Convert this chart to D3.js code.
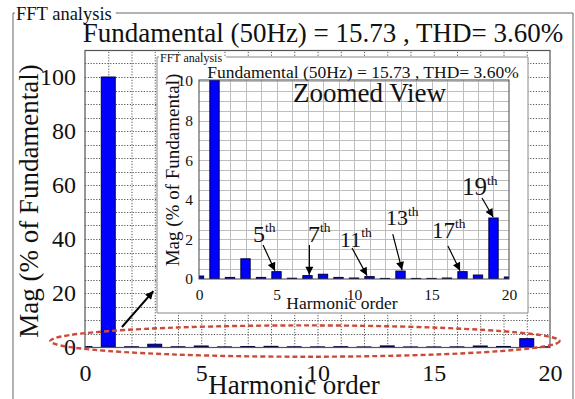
<!DOCTYPE html>
<html>
<head>
<meta charset="utf-8">
<script src="https://cdn.jsdelivr.net/npm/d3@7"></script>
<style>
  html, body { margin: 0; padding: 0; background: #fff; }
  svg { display: block; }
</style>
</head>
<body>
<svg id="chart" width="575" height="399" font-family="'Liberation Serif', 'DejaVu Serif', serif"></svg>
<script>
// Harmonic spectrum (% of fundamental), orders 0..20
const harmonics = d3.range(0, 21);
const magnitude = [0.15, 100, 0.08, 1.02, 0.08, 0.37, 0.04, 0.17, 0.24, 0.08, 0.05,
                   0.12, 0.03, 0.40, 0.03, 0.03, 0.05, 0.37, 0.20, 3.08, 0.10];

const titleText = "Fundamental (50Hz) = 15.73 , THD= 3.60%";
const panelLabel = "FFT analysis";
const xTicks = [0, 5, 10, 15, 20];
const yTicksMain = [0, 20, 40, 60, 80, 100];
const yTicksZoom = [0, 2, 4, 6, 8, 10];

// Callouts in the zoomed view (order, label text in data units, arrow tail in data units)
const calloutOrder = [5, 7, 11, 13, 17, 19];
const calloutText  = [[3.48, 1.87], [7.03, 1.87], [9.10, 1.63], [12.06, 2.73], [15.03, 2.07], [16.97, 4.24]];
const calloutTail  = [[4.13, 1.72], [7.12, 1.72], [9.87, 1.57], [12.50, 2.27], [16.06, 1.67], [18.26, 4.09]];
const calloutTipX  = [4.90, 7.12, 10.84, 13.10, 16.84, 18.97];
const calloutSize  = [24, 24, 22, 22, 23, 25];

const serif = "'Liberation Serif', 'DejaVu Serif', serif";
const svg = d3.select("#chart");

svg.append("defs").append("marker")
  .attr("id", "head").attr("viewBox", "0 0 10 10")
  .attr("refX", 10).attr("refY", 5)
  .attr("markerWidth", 10).attr("markerHeight", 8)
  .attr("markerUnits", "userSpaceOnUse")
  .attr("orient", "auto")
  .append("path").attr("d", "M0,0 L10,5 L0,10 Z").attr("fill", "#000");

function label(g, x, y, size, str) {
  return g.append("text").attr("x", x).attr("y", y)
    .attr("font-family", serif).attr("font-size", size).attr("fill", "#111").text(str);
}

// Framed panel with a caption broken into its top border
function panel(g, x0, y0, x1, y1, caption, size, color) {
  const t = label(g, x0 + 3, y0 + size * 0.38, size, caption);
  const w = t.node().getComputedTextLength();
  g.append("path")
    .attr("d", `M${x0 + 2},${y0} H${x0} V${y1} M${x0 + 3 + w + 4},${y0} H${x1} V${y1}`)
    .attr("fill", "none").attr("stroke", color).attr("stroke-width", 1);
}

// ---------- Main spectrum ----------
const xMain = d3.scaleLinear().domain([0, 20]).range([85, 550]);
const yMain = d3.scaleLinear().domain([0, 110]).range([347, 50]);

panel(svg.append("g"), 13, 13, 573, 400, panelLabel, 18.5, "#666");

label(svg, 323, 42, 27, titleText).attr("text-anchor", "middle");

const main = svg.append("g");
const clipMain = svg.append("clipPath").attr("id", "clipMain");
clipMain.append("rect").attr("x", xMain(0)).attr("y", yMain(110))
  .attr("width", xMain(20) - xMain(0)).attr("height", yMain(0) - yMain(110));

const gridMain = main.append("g").attr("stroke", "#555").attr("stroke-width", 1)
  .attr("stroke-dasharray", "1.2,1.6");
gridMain.selectAll("line.v").data(d3.range(1, 20)).join("line")
  .attr("x1", d => xMain(d) + 0.5).attr("x2", d => xMain(d) + 0.5)
  .attr("y1", yMain(0)).attr("y2", yMain(110));
gridMain.selectAll("line.h").data(d3.range(5, 110, 5)).join("line")
  .attr("y1", d => Math.round(yMain(d)) + 0.5).attr("y2", d => Math.round(yMain(d)) + 0.5)
  .attr("x1", xMain(0)).attr("x2", xMain(20));

const barW = 0.6;
main.append("g").attr("clip-path", "url(#clipMain)")
  .selectAll("rect").data(harmonics).join("rect")
  .attr("x", d => xMain(d - barW / 2)).attr("width", xMain(barW) - xMain(0))
  .attr("y", d => yMain(magnitude[d])).attr("height", d => yMain(0) - yMain(magnitude[d]))
  .attr("fill", "#0000ff").attr("stroke", "#000033").attr("stroke-width", 1);

main.append("rect").attr("x", xMain(0)).attr("y", yMain(110) + 0.5)
  .attr("width", xMain(20) - xMain(0)).attr("height", yMain(0) - yMain(110))
  .attr("fill", "none").attr("stroke", "#555").attr("stroke-width", 1.2);

const axMainX = main.append("g").attr("transform", `translate(0,${yMain(0)})`)
  .call(d3.axisBottom(xMain).tickValues(xTicks).tickSize(0).tickPadding(17));
const axMainY = main.append("g").attr("transform", `translate(${xMain(0)},0)`)
  .call(d3.axisLeft(yMain).tickValues(yTicksMain).tickSize(0).tickPadding(9));
[axMainX, axMainY].forEach(a => {
  a.attr("font-family", serif).attr("font-size", 24);
  a.select(".domain").remove();
  a.selectAll("text").attr("fill", "#111");
});

label(svg, 294, 394, 27, "Harmonic order").attr("text-anchor", "middle");
label(svg, 0, 0, 27, "Mag (% of Fundamental)")
  .attr("transform", "translate(38,201) rotate(-90)").attr("text-anchor", "middle");

// ---------- Zoomed inset ----------
const inset = svg.append("g");
inset.append("rect").attr("x", 157).attr("y", 57).attr("width", 371).attr("height", 256)
  .attr("fill", "#fff");
panel(inset, 157, 57, 528, 313, panelLabel, 12, "#888");
inset.append("line").attr("x1", 157).attr("x2", 528).attr("y1", 313).attr("y2", 313)
  .attr("stroke", "#888");

const xIn = d3.scaleLinear().domain([0, 20]).range([199, 509]);
const yIn = d3.scaleLinear().domain([0, 10]).range([279, 81]);
const yTop = 10.05;

label(inset, 363, 77.5, 17.5, titleText).attr("text-anchor", "middle");

const clipIn = svg.append("clipPath").attr("id", "clipIn");
clipIn.append("rect").attr("x", xIn(0)).attr("y", yIn(yTop))
  .attr("width", xIn(20) - xIn(0)).attr("height", yIn(0) - yIn(yTop));

const gridIn = inset.append("g").attr("stroke", "#bdbdbd").attr("stroke-width", 1);
gridIn.selectAll("line.v").data(d3.range(1, 20)).join("line")
  .attr("x1", d => Math.round(xIn(d)) + 0.5).attr("x2", d => Math.round(xIn(d)) + 0.5)
  .attr("y1", yIn(0)).attr("y2", yIn(yTop));
gridIn.selectAll("line.h").data(d3.range(0.5, 10.01, 0.5)).join("line")
  .attr("y1", d => Math.round(yIn(d)) + 0.5).attr("y2", d => Math.round(yIn(d)) + 0.5)
  .attr("x1", xIn(0)).attr("x2", xIn(20));

label(inset, 293, 102, 27, "Zoomed View");

inset.append("g").attr("clip-path", "url(#clipIn)")
  .selectAll("rect").data(harmonics).join("rect")
  .attr("x", d => xIn(d - barW / 2)).attr("width", xIn(barW) - xIn(0))
  .attr("y", d => yIn(Math.min(magnitude[d], yTop + 1)))
  .attr("height", d => yIn(0) - yIn(Math.min(magnitude[d], yTop + 1)))
  .attr("fill", "#0000ff").attr("stroke", "#000040").attr("stroke-width", 1);

inset.append("rect").attr("x", xIn(0)).attr("y", yIn(yTop))
  .attr("width", xIn(20) - xIn(0)).attr("height", yIn(0) - yIn(yTop))
  .attr("fill", "none").attr("stroke", "#444").attr("stroke-width", 1);

const axInX = inset.append("g").attr("transform", `translate(0,${yIn(0)})`)
  .call(d3.axisBottom(xIn).tickValues(xTicks).tickSize(0).tickPadding(10));
const axInY = inset.append("g").attr("transform", `translate(${xIn(0)},0)`)
  .call(d3.axisLeft(yIn).tickValues(yTicksZoom).tickSize(0).tickPadding(6));
[axInX, axInY].forEach(a => {
  a.attr("font-family", serif).attr("font-size", 15.5);
  a.select(".domain").remove();
  a.selectAll("text").attr("fill", "#111");
});

label(inset, 342, 309, 17.5, "Harmonic order").attr("text-anchor", "middle");
label(inset, 0, 0, 19, "Mag (% of Fundamental)")
  .attr("transform", "translate(179,170) rotate(-90)").attr("text-anchor", "middle");

// Callout labels and arrows pointing at the harmonic bars
calloutOrder.forEach((h, i) => {
  const t = label(inset, xIn(calloutText[i][0]), yIn(calloutText[i][1]), calloutSize[i], "");
  t.append("tspan").text(String(h));
  t.append("tspan").attr("dy", -calloutSize[i] * 0.42).attr("font-size", 13.5).text("th");
  inset.append("line")
    .attr("x1", xIn(calloutTail[i][0])).attr("y1", yIn(calloutTail[i][1]))
    .attr("x2", xIn(calloutTipX[i])).attr("y2", yIn(magnitude[h]) - 1)
    .attr("stroke", "#000").attr("stroke-width", 1.2).attr("marker-end", "url(#head)");
});

// Arrow from the highlighted low-magnitude band to the inset
svg.append("line")
  .attr("x1", xMain(1.59)).attr("y1", yMain(7.4))
  .attr("x2", xMain(2.94)).attr("y2", yMain(20.7))
  .attr("stroke", "#000").attr("stroke-width", 2).attr("marker-end", "url(#head)");

// Dashed ellipse around the small harmonics of the main plot
const ecx = xMain(9.46), ecy = yMain(2.2);
svg.append("ellipse").attr("cx", ecx).attr("cy", ecy)
  .attr("rx", xMain(9.46 + 10.95) - ecx).attr("ry", ecy - yMain(2.2 + 5.8))
  .attr("fill", "none").attr("stroke", "#cc4a3a").attr("stroke-width", 2.4)
  .attr("stroke-dasharray", "5,3");
</script>
</body>
</html>
